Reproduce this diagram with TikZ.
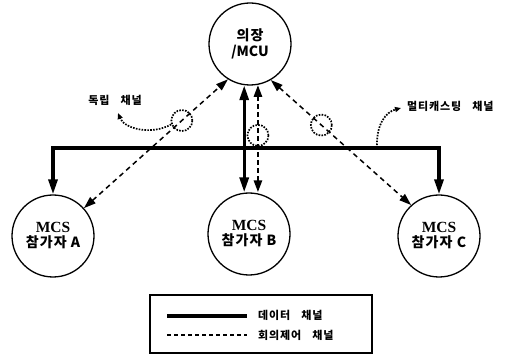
\documentclass[tikz,border=0pt]{standalone}
\usepackage{fontspec}
\newfontfamily\kr[LetterSpace=8]{Noto Sans CJK KR}
\newfontfamily\krn{Noto Sans CJK KR}
\newfontfamily\ser{Liberation Serif}
\usetikzlibrary{arrows.meta}
\begin{document}
\begin{tikzpicture}[x=1pt,y=-1pt,
  party/.style={circle,draw,line width=1.3pt,minimum size=82pt,inner sep=0pt,align=center},
  data/.style={line width=3.2pt},
  ctrl/.style={line width=1.5pt,dash pattern=on 5pt off 4pt},
  ctrlthick/.style={line width=2.6pt,dash pattern=on 5pt off 3pt},
  dots/.style={line width=1.7pt,dash pattern=on 1.6pt off 1.3pt},
  bighead/.tip={Triangle[length=15pt,width=9pt]},
  midhead/.tip={Triangle[length=12pt,width=8pt]},
  smallhead/.tip={Triangle[length=6pt,width=5pt]},
  ring/.style={circle,draw,dots,minimum size=21pt,inner sep=0pt},
  lab/.style={font=\kr\bfseries\fontsize{11}{13}\selectfont,inner sep=0pt},
  mcs/.style={font=\ser\bfseries\fontsize{15.5}{18}\selectfont},
  kr13/.style={}
]
\useasboundingbox (0,0) rectangle (522,355);

\node[party] (mcu) at (250,44) {\kr\bfseries\fontsize{14}{17}\selectfont 의장\\[2pt]\krn\bfseries\fontsize{14}{17}\selectfont /MCU};
\node[party] (a) at (53,236) {\ser\bfseries\fontsize{15.5}{18}\selectfont MCS\\[3pt]\kr\bfseries\fontsize{14}{16}\selectfont 참가자 A};
\node[party] (b) at (249,234) {\ser\bfseries\fontsize{15.5}{18}\selectfont MCS\\[3pt]\kr\bfseries\fontsize{14}{16}\selectfont 참가자 B};
\node[party] (c) at (439,236) {\ser\bfseries\fontsize{15.5}{18}\selectfont MCS\\[3pt]\kr\bfseries\fontsize{14}{16}\selectfont 참가자 C};

% multicast bar
\coordinate (barL) at (53,148);
\coordinate (barR) at (439,148);
\draw[data,{bighead}-{bighead}] (a) -- (barL) -- (barR) -- (c);

% data channel MCU <-> B
\draw[data,{bighead}-{bighead}] (mcu.262) -- (mcu.262 |- b.north);
% control channel MCU <-> B
\draw[ctrlthick,{midhead}-{midhead}] (mcu.281) -- (mcu.281 |- b.north)
  node[ring,pos=0.47] (rb) {};

% control channels to A and C
\draw[ctrl,{midhead}-{midhead}] (a.42) -- (mcu.238) node[ring,pos=0.68] (ra) {};
\draw[ctrl,{midhead}-{midhead}] (mcu.300) -- (c.132) node[ring,pos=0.36] (rc) {};

% callouts
\node[lab] (l1) at (115,100) {독립\quad 채널};
\coordinate (t1) at (118,113);
\draw[dots,-{smallhead}] (ra.200) .. controls (150,136) and (124,128) .. (t1);

\node[lab,anchor=west] (l2) at (407,106) {멀티캐스팅\quad 채널};
\coordinate (m1) at (377,148);
\coordinate (t2) at (401,108);
\draw[dots,-{smallhead}] (m1) .. controls (376,124) and (386,112) .. (t2);

% legend
\node[draw,line width=1.3pt,minimum width=222pt,minimum height=58pt,inner sep=0pt] (leg) at (261,324) {};
\coordinate (s1) at (167,316);
\coordinate (s2) at (247,316);
\draw[data] (s1) -- (s2);
\coordinate (d1) at (167,335);
\coordinate (d2) at (247,335);
\draw[line width=1.8pt,dash pattern=on 4pt off 3pt] (d1) -- (d2);
\node[lab,anchor=west] (lt1) at (258,315) {데이터\quad 채널};
\node[lab,anchor=west] (lt2) at (258,335) {회의제어\quad 채널};
\end{tikzpicture}
\end{document}
